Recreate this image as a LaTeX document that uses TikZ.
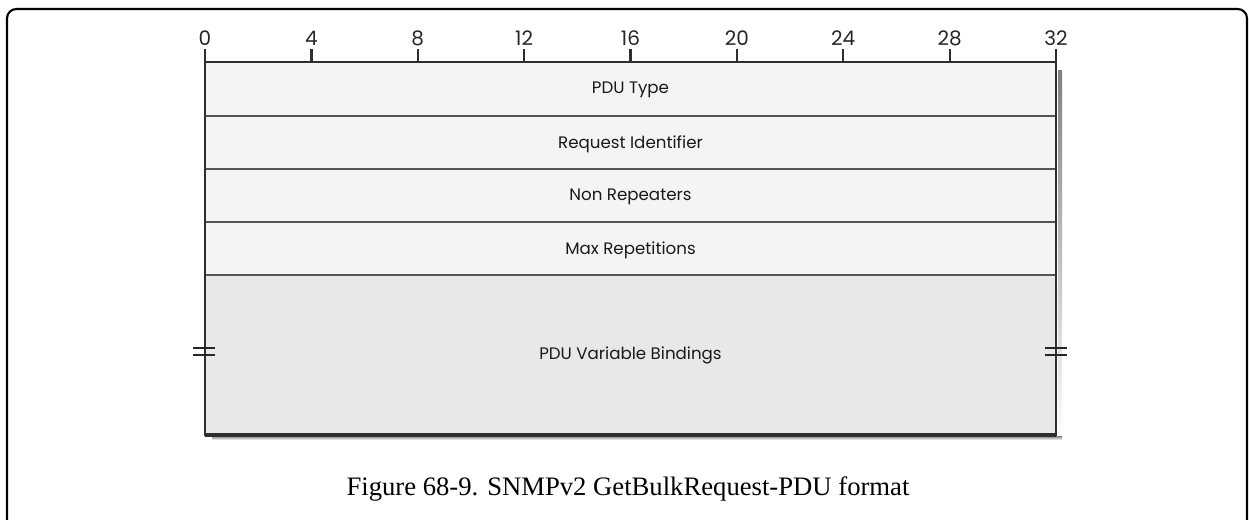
\documentclass[tikz,border=0pt]{standalone}
\usepackage{fontspec}
\setmainfont{Liberation Serif}
\newfontfamily\lblfont{Poppins}
\definecolor{rowfill}{HTML}{F4F4F4}
\definecolor{varfill}{HTML}{E8E8E8}
\definecolor{edge}{HTML}{2E2E2E}
\definecolor{sep}{HTML}{555555}
\definecolor{shade}{HTML}{D6D6D6}
\begin{document}
\begin{tikzpicture}[x=0.75pt,y=-0.75pt,
  lbl/.style={font=\lblfont\fontsize{12.5pt}{14pt}\selectfont, text=black!90, inner sep=0pt},
  numlbl/.style={font=\lblfont\fontsize{15pt}{17pt}\selectfont, text=black!85, inner sep=0pt, anchor=base},
  heavy/.style={draw=edge, line width=1.9pt},
  sepline/.style={draw=sep, line width=1.1pt},
  brk/.style={draw=black!85, line width=1.5pt}]
\useasboundingbox (0,0) rectangle (1249,519);
% outer frame
\draw[line width=1.6pt, rounded corners=7pt] (7,522) -- (7,9) -- (1247,9) -- (1247,522);
% shadow
\fill[shade] (1058,70) rectangle (1062,440);
\fill[shade] (212,436) rectangle (1062,440);
% fills
\fill[rowfill] (205,62) rectangle (1056,275);
\fill[varfill] (205,275) rectangle (1056,435);
% coordinates
\coordinate (tl) at (205,62);
\coordinate (tr) at (1056,62);
\coordinate (bl) at (205,435);
\coordinate (br) at (1056,435);
% separators
\foreach \y in {116,169,222,275} \draw[sepline] (205,\y) -- (1056,\y);
% ruler ticks and numbers
\foreach \i in {0,4,...,32} {
  \pgfmathsetmacro{\xx}{205+26.59375*\i}
  \draw[line width=1.7pt, draw=edge] (\xx,62) -- (\xx,49);
  \node[numlbl] (n\i) at (\xx,45.5) {\i};
}
% main outline
\draw[heavy] (tl) -- (tr) -- (br) -- (bl) -- cycle;
\draw[draw=edge, line width=2.4pt] (bl) -- (br);
% break marks
\draw[brk] (193,348) -- (215,348);
\draw[brk] (193,355) -- (215,355);
\draw[brk] (1045,348) -- (1067,348);
\draw[brk] (1045,355) -- (1067,355);
% labels
\node[lbl] (pdutype) at (630.5,90) {PDU Type};
\node[lbl] (reqid) at (630.5,144) {Request Identifier};
\node[lbl] (nonrep) at (630.5,197) {Non Repeaters};
\node[lbl] (maxrep) at (630.5,250) {Max Repetitions};
\node[lbl] (varbind) at (630.5,355) {PDU Variable Bindings};
% caption
\node[font=\fontsize{20pt}{24pt}\selectfont, anchor=base] (cap) at (628,495) {Figure 68-9. SNMPv2 GetBulkRequest-PDU format};
\end{tikzpicture}
\end{document}
